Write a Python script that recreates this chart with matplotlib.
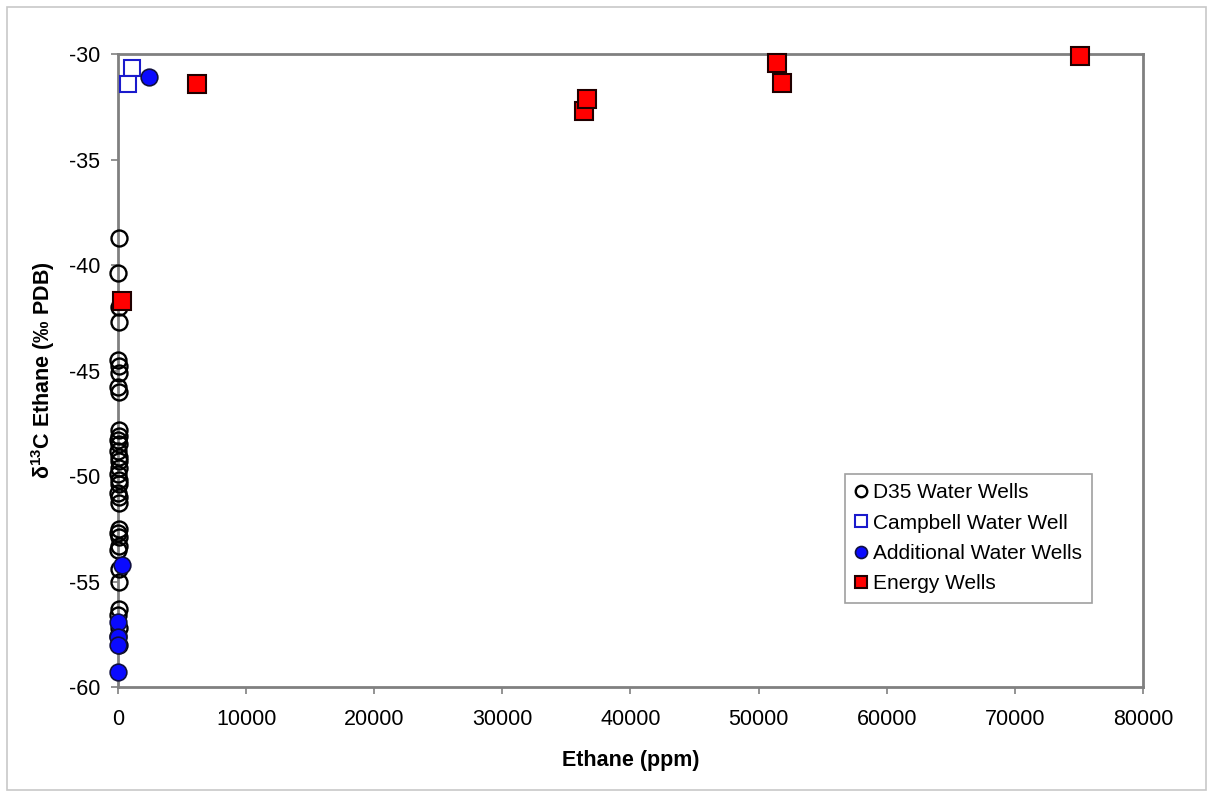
import matplotlib
matplotlib.use('Agg')
import matplotlib.pyplot as plt
from matplotlib.patches import Rectangle

plt.rcParams['font.family'] = ['Liberation Sans', 'DejaVu Sans']
plt.rcParams['mathtext.fontset'] = 'custom'
plt.rcParams['mathtext.rm'] = 'Liberation Sans'
plt.rcParams['mathtext.bf'] = 'Liberation Sans:bold'
plt.rcParams['axes.unicode_minus'] = False

# D35 water wells (open circles), all sit close to zero ethane
d35_x = [60, 40, 80, 50, 30, 70, 90, 40, 60, 50, 80, 30, 60, 40, 90, 50, 70, 30,
         60, 80, 40, 50, 70, 60, 30, 90, 50, 40, 70, 60, 50, 40, 80, 30, 60]
d35_y = [-38.7, -40.4, -42.0, -42.7, -44.5, -44.8, -45.1, -45.8, -46.0, -47.8,
         -48.1, -48.3, -48.5, -48.8, -49.1, -49.3, -49.6, -49.9, -50.2, -50.4,
         -50.8, -51.0, -51.3, -52.5, -52.7, -52.9, -53.3, -53.5, -54.4, -55.0,
         -56.3, -56.6, -57.2, -57.6, -58.0]

campbell_x = [1090, 780]
campbell_y = [-30.66, -31.42]

additional_x = [2420, 300, 20, 30, 40, 20]
additional_y = [-31.1, -54.2, -56.9, -57.65, -58.0, -59.3]

energy_x = [310, 6170, 36400, 36640, 51400, 51800, 75070]
energy_y = [-41.7, -31.42, -32.7, -32.13, -30.43, -31.37, -30.1]

fig = plt.figure(figsize=(12.11, 7.95), dpi=100)
ax = fig.add_axes([0.0974, 0.1358, 0.8464, 0.7962])

# outer border of the picture
fig.patches.append(Rectangle((0.006, 0.006), 0.99, 0.985, transform=fig.transFigure,
                             fill=False, edgecolor='#c8c8c8', linewidth=1.2))

ax.plot(d35_x, d35_y, 'o', ms=11.5, mfc='none', mec='black', mew=1.7,
        clip_on=False, label='D35 Water Wells', zorder=3)
ax.plot(campbell_x, campbell_y, 's', ms=12, mfc='white', mec='#1a1acc', mew=1.5,
        clip_on=False, label='Campbell Water Well', zorder=4)
ax.plot(additional_x, additional_y, 'o', ms=12, mfc='#0a0aff', mec='#101040', mew=1.2,
        clip_on=False, label='Additional Water Wells', zorder=5)
ax.plot(energy_x, energy_y, 's', ms=12.5, mfc='#ff0000', mec='#200000', mew=1.5,
        clip_on=False, label='Energy Wells', zorder=6)

ax.set_xlim(0, 80000)
ax.set_ylim(-60, -30)
ax.set_xticks(range(0, 80001, 10000))
ax.set_yticks(range(-60, -29, 5))

for s in ax.spines.values():
    s.set_color('#808080')
    s.set_linewidth(2)
ax.tick_params(direction='out', length=5, width=1.2, color='#808080',
               labelsize=15.5, pad=8)
ax.tick_params(axis='x', pad=11)

ax.set_xlabel('Ethane (ppm)', fontsize=15.5, fontweight='bold', labelpad=14)
ax.set_ylabel(r'δ$^{\mathbf{13}}$C Ethane (‰ PDB)', fontsize=15.5,
              fontweight='bold', labelpad=8)

leg = ax.legend(loc='lower right', bbox_to_anchor=(0.95, 0.133), borderaxespad=0,
                fontsize=15, markerscale=0.72, handlelength=0.6, handletextpad=0.3,
                labelspacing=0.55, fancybox=False, framealpha=1, borderpad=0.45)
leg.get_frame().set_edgecolor('#a0a0a0')
leg.get_frame().set_linewidth(1.2)

fig.savefig('out.png', dpi=100)
